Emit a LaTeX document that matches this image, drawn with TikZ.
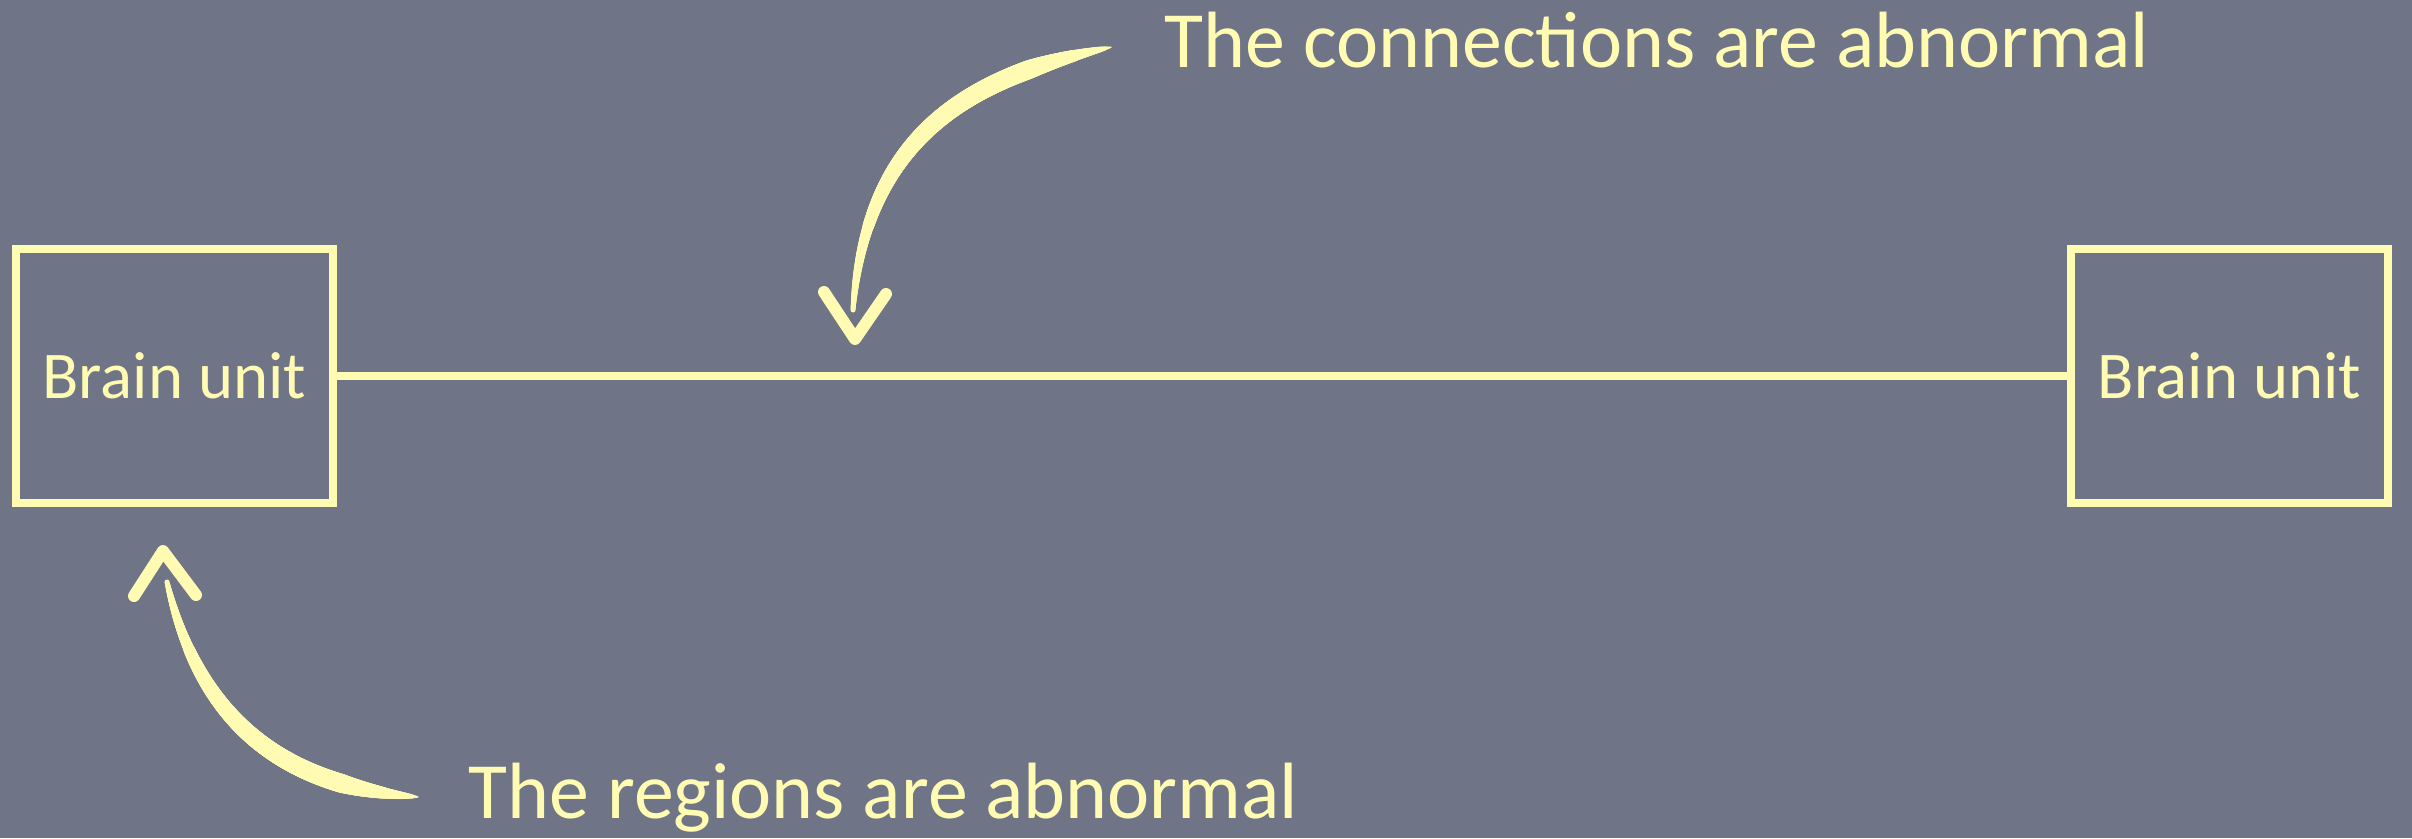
\documentclass[tikz,border=0pt]{standalone}
\usepackage{fontspec}
\setmainfont{Carlito}
\definecolor{slate}{RGB}{111,117,135}
\definecolor{chalk}{RGB}{255,251,178}
\tikzset{
  unitbox/.style={draw=chalk, line width=0.075cm, minimum width=3.17cm,
    minimum height=2.54cm, inner sep=0pt, text=chalk,
    font=\fontsize{19pt}{22pt}\selectfont},
  link/.style={draw=chalk, line width=0.075cm},
  note/.style={text=chalk, inner sep=0pt, font=\fontsize{22.7pt}{27pt}\selectfont},
  brushdot/.style={circle, fill=chalk, draw=none, inner sep=0pt, outer sep=0pt},
  tiphead/.style={draw=chalk, line width=0.12cm, line cap=round, line join=round},
}
% a chalk stroke along a Bezier: pointed at the tail, widest near the tail,
% thinning towards the arrow end
\newcommand\chalkstroke[4]{%
  \foreach \i in {1,...,500}{%
    \pgfmathsetmacro\t{\i/500}%
    \pgfmathsetmacro\w{0.01*(min(\t/0.2,1)^0.6)*(19-14*\t*\t*\t)}%
    \path (#1) .. controls #2 and #3 .. (#4)
      node[brushdot, pos=\t, minimum size=\w cm] {};
  }%
}
\begin{document}
\begin{tikzpicture}[x=0.01cm, y=-0.01cm]
  % slate background and page frame
  \fill[slate] (0,0) rectangle (2412,838);
  \useasboundingbox (0,0) rectangle (2412,838);

  % the two units and the connection between them
  \node[unitbox] (left) at (174.5,376) {Brain unit};
  \node[unitbox] (right) at (2229.5,376) {Brain unit};
  \draw[link] (left.east) -- (right.west);

  % captions
  \node[note, anchor=base west] (conn) at (1164,67) {The connections are abnormal};
  \node[note, anchor=base west] (reg) at (468,818) {The regions are abnormal};

  % arrow from the upper caption down to the connection
  \coordinate (tailA) at (1112,47);
  \coordinate (endA) at (853,310);
  \coordinate (tipA) at (855,339);
  \chalkstroke{tailA}{(963,77)}{(865,140)}{endA}
  \draw[tiphead] (824,292) -- (tipA) -- (886,294);

  % arrow from the lower caption up to the left unit
  \coordinate (tailB) at (419,797);
  \coordinate (endB) at (167,582);
  \coordinate (tipB) at (163,551);
  \chalkstroke{tailB}{(277,786)}{(198,716)}{endB}
  \draw[tiphead] (134,596) -- (tipB) -- (196,595);
\end{tikzpicture}
\end{document}
